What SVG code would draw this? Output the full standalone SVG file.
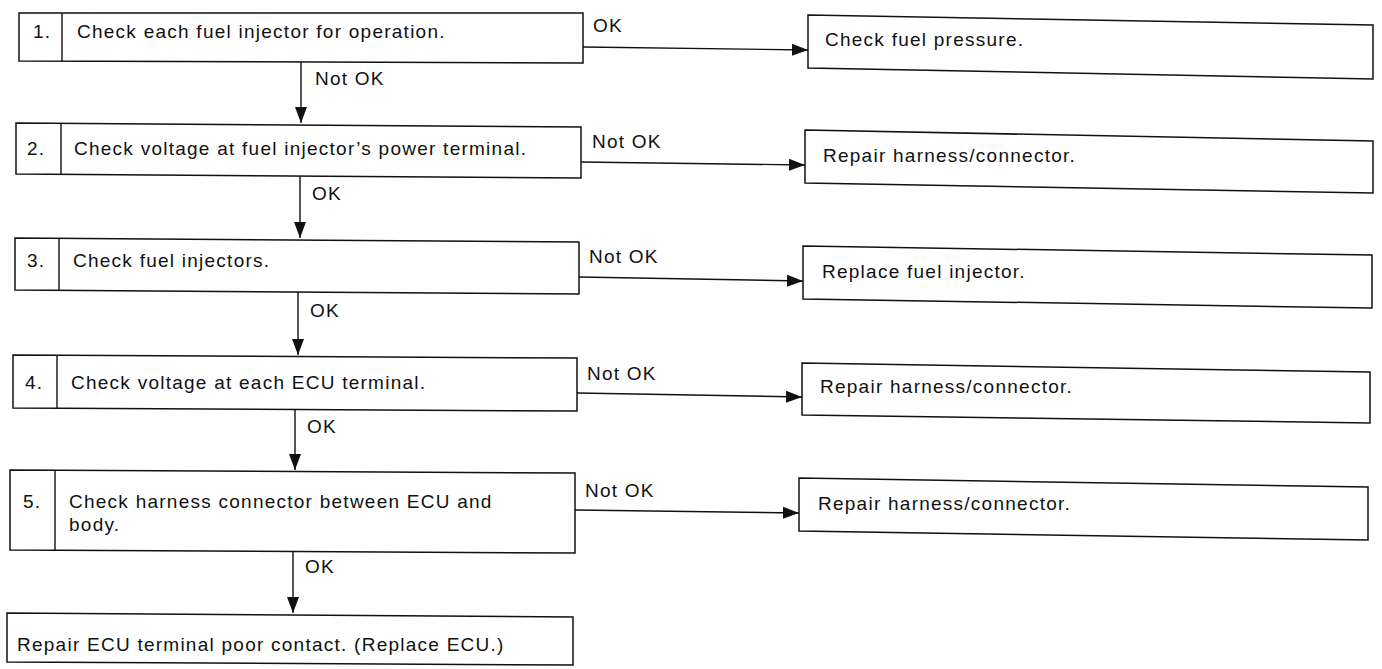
<svg xmlns="http://www.w3.org/2000/svg" width="1382" height="669" viewBox="0 0 1382 669">
<style>
.box{fill:#fff;stroke:#111;stroke-width:1.5}
.div{stroke:#111;stroke-width:1.4}
.t{font-family:"Liberation Sans",Arial,sans-serif;font-size:19px;letter-spacing:1.25px;fill:#111}
.c{fill:none;stroke:#111;stroke-width:1.4}
</style>
<defs>
<marker id="ah" markerUnits="userSpaceOnUse" markerWidth="18" markerHeight="14" refX="16" refY="6.5" orient="auto">
<path d="M0,0.5 L16,6.5 L0,12.5 Z" fill="#111"/>
</marker>
</defs>
<rect width="1382" height="669" fill="#fff"/>
<g id="connectors">
<line class="c" x1="583" y1="47" x2="808" y2="50" marker-end="url(#ah)"/>
<line class="c" x1="581" y1="162" x2="805" y2="165" marker-end="url(#ah)"/>
<line class="c" x1="579" y1="277" x2="803" y2="281" marker-end="url(#ah)"/>
<line class="c" x1="577" y1="393" x2="802" y2="397" marker-end="url(#ah)"/>
<line class="c" x1="575" y1="510" x2="799" y2="513" marker-end="url(#ah)"/>
<line class="c" x1="301" y1="61" x2="301" y2="123" marker-end="url(#ah)"/>
<line class="c" x1="300" y1="175" x2="300" y2="238" marker-end="url(#ah)"/>
<line class="c" x1="298" y1="291" x2="298" y2="355" marker-end="url(#ah)"/>
<line class="c" x1="295" y1="409" x2="295" y2="470" marker-end="url(#ah)"/>
<line class="c" x1="293" y1="551" x2="293" y2="613" marker-end="url(#ah)"/>
<text class="t" x="593" y="32">OK</text>
<text class="t" x="592" y="148">Not OK</text>
<text class="t" x="589" y="263">Not OK</text>
<text class="t" x="587" y="380">Not OK</text>
<text class="t" x="585" y="497">Not OK</text>
<text class="t" x="315" y="85">Not OK</text>
<text class="t" x="312" y="200">OK</text>
<text class="t" x="310" y="317">OK</text>
<text class="t" x="307" y="433">OK</text>
<text class="t" x="305" y="573">OK</text>
</g>
<g id="step1">
<polygon class="box" points="19,13 583,13 583,63 19,61"/>
<line class="div" x1="62" y1="13" x2="62" y2="61"/>
<text class="t" x="33" y="38">1.</text>
<text class="t" x="77" y="38">Check each fuel injector for operation.</text>
</g>
<g id="step2">
<polygon class="box" points="16,123 581,127 581,178 16,174"/>
<line class="div" x1="61" y1="123" x2="61" y2="174"/>
<text class="t" x="27" y="155">2.</text>
<text class="t" x="74" y="155">Check voltage at fuel injector’s power terminal.</text>
</g>
<g id="step3">
<polygon class="box" points="15,238 579,242 579,294 15,290"/>
<line class="div" x1="59" y1="238" x2="59" y2="290"/>
<text class="t" x="27" y="267">3.</text>
<text class="t" x="73" y="267">Check fuel injectors.</text>
</g>
<g id="step4">
<polygon class="box" points="13,355 577,358 577,411 13,408"/>
<line class="div" x1="57" y1="355" x2="57" y2="408"/>
<text class="t" x="25" y="389">4.</text>
<text class="t" x="71" y="389">Check voltage at each ECU terminal.</text>
</g>
<g id="step5">
<polygon class="box" points="10,470 575,473 575,553 10,550"/>
<line class="div" x1="55" y1="470" x2="55" y2="550"/>
<text class="t" x="23" y="508">5.</text>
<text class="t" x="69" y="508">Check harness connector between ECU and</text>
<text class="t" x="69" y="531">body.</text>
</g>
<g id="final">
<polygon class="box" points="7,613 573,617 573,665 7,662"/>
<text class="t" x="17" y="651">Repair ECU terminal poor contact. (Replace ECU.)</text>
</g>
<g id="r1">
<polygon class="box" points="808,15 1373,25 1373,79 808,68"/>
<text class="t" x="825" y="46">Check fuel pressure.</text>
</g>
<g id="r2">
<polygon class="box" points="805,130 1373,141 1373,193 805,183"/>
<text class="t" x="823" y="162">Repair harness/connector.</text>
</g>
<g id="r3">
<polygon class="box" points="803,246 1372,255 1372,308 803,299"/>
<text class="t" x="822" y="278">Replace fuel injector.</text>
</g>
<g id="r4">
<polygon class="box" points="802,363 1370,372 1370,423 802,415"/>
<text class="t" x="820" y="393">Repair harness/connector.</text>
</g>
<g id="r5">
<polygon class="box" points="799,478 1368,487 1368,540 799,531"/>
<text class="t" x="818" y="510">Repair harness/connector.</text>
</g>
</svg>
